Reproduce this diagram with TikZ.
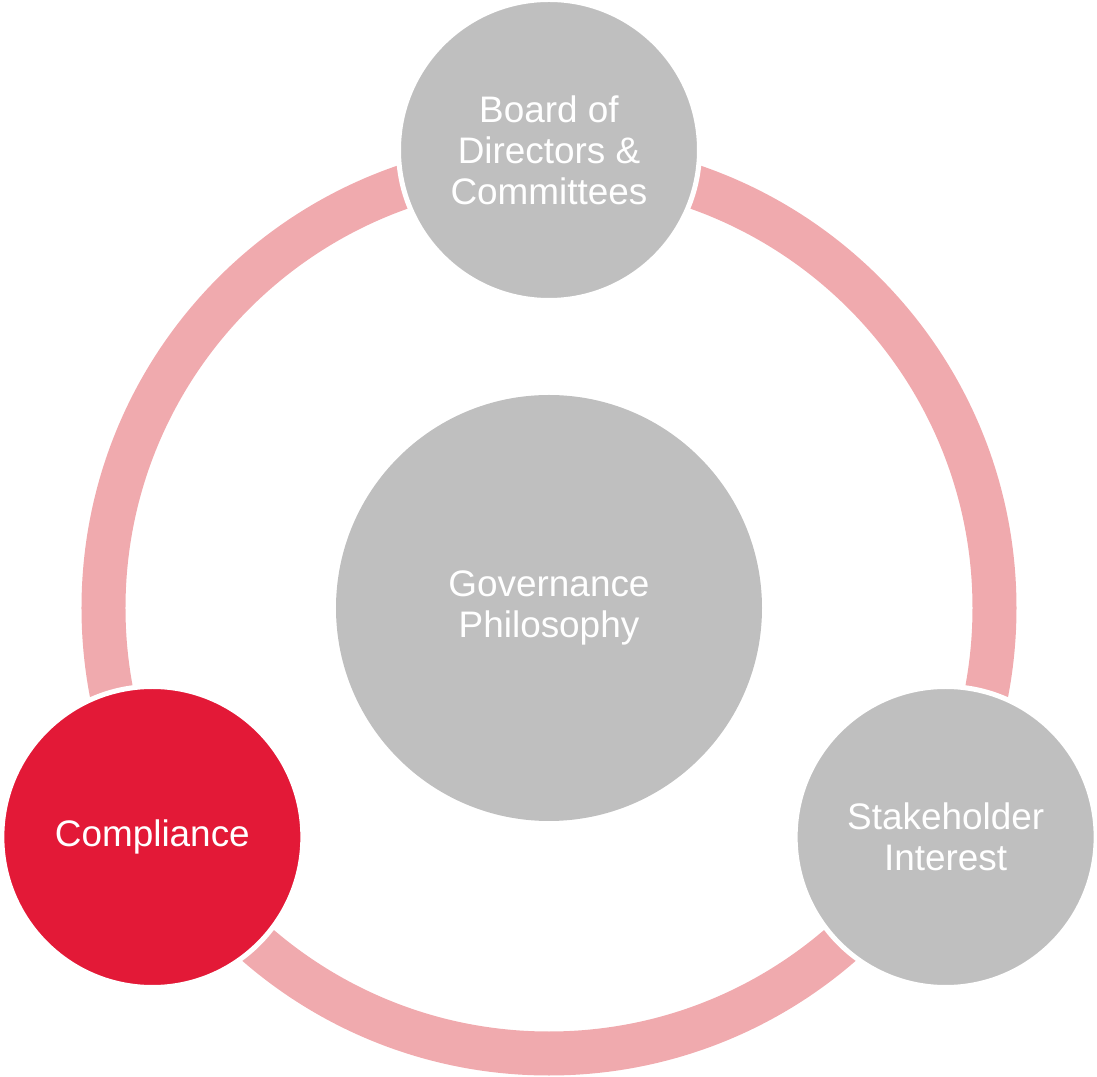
\documentclass[tikz,border=0pt]{standalone}
\usepackage{fontspec}
\setmainfont{Liberation Sans}
\definecolor{ringpink}{RGB}{240,170,174}
\definecolor{bubblegray}{RGB}{191,191,191}
\definecolor{compred}{RGB}{227,25,55}
\tikzset{
  bubble/.style={circle, fill=bubblegray, inner sep=0pt, align=center, text=white,
    font=\fontsize{21}{23.3}\selectfont},
  satellite/.style={bubble, draw=white, line width=0.1cm, minimum size=6.02cm}
}
\begin{document}
\begin{tikzpicture}
  \useasboundingbox (-10.98,-9.38) rectangle (10.96,12.16);
  % The ring behind everything
  \draw [ringpink, line width=0.88cm] (0,0) circle (8.91);
  % The centre
  \node [bubble, minimum size=8.52cm] (gov) at (0,0) {Governance\\Philosophy};
  % The three circles on the ring
  \node [satellite] (board) at (90:9.16) {Board of\\Directors \&\\Committees};
  \node [satellite, fill=compred] (comply) at (210:9.16) {Compliance};
  \node [satellite] (stake) at (330:9.16) {Stakeholder\\Interest};
\end{tikzpicture}
\end{document}
